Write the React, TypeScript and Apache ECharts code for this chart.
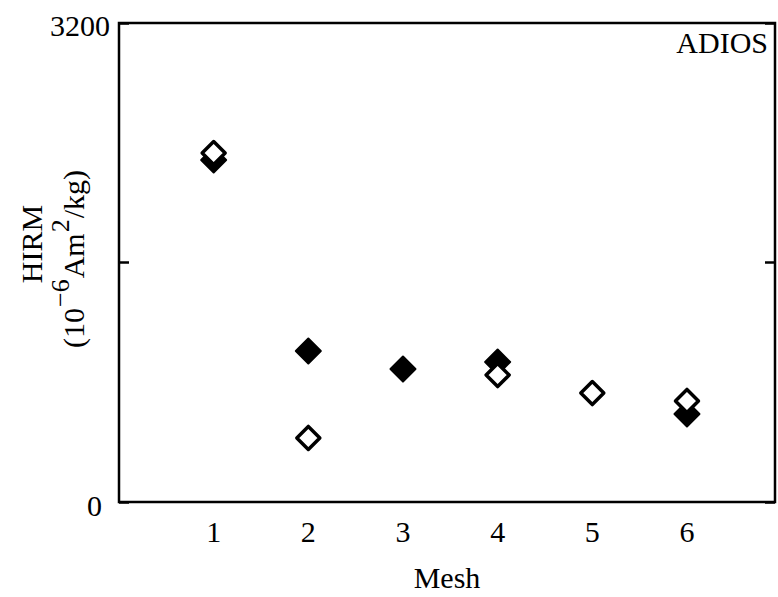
import React, { useEffect, useRef } from "react";
import * as echarts from "echarts";

// Mesh fractions on the x axis
const meshes = [1, 2, 3, 4, 5, 6];
// HIRM values (10^-6 Am^2/kg), solid diamonds
const filledHIRM: (number | null)[] = [2285, 1009, 888, 935, null, 588];
// HIRM values (10^-6 Am^2/kg), open diamonds
const openHIRM: (number | null)[] = [2331, 428, null, 848, 728, 675];
// y-axis range and step
const yMin = 0;
const yMax = 3200;
const yStep = 1600;
const yLabelValues = [0, 3200];

const SERIF = "'Liberation Serif', 'Times New Roman', serif";
const FS = 30;

const toPairs = (vals: (number | null)[]) =>
  meshes
    .map((m, i) => (vals[i] == null ? null : [m, vals[i]]))
    .filter((p) => p !== null) as number[][];

export default function App() {
  const ref = useRef<HTMLDivElement>(null);

  useEffect(() => {
    if (!ref.current) return;
    const chart = echarts.init(ref.current, null, { renderer: "svg" });
    const axisLine = { show: false };
    const insideTick = {
      show: true,
      inside: true,
      length: 10,
      lineStyle: { color: "#000", width: 2.5 },
    };
    chart.setOption({
      animation: false,
      backgroundColor: "#fff",
      textStyle: { fontFamily: SERIF, color: "#000" },
      grid: {
        left: 119,
        right: 1,
        top: 23,
        bottom: 95,
        show: true,
        borderColor: "#000",
        borderWidth: 2.5,
        backgroundColor: "transparent",
      },
      xAxis: {
        type: "value",
        min: 0,
        max: 6.93,
        interval: 1,
        axisLine,
        axisTick: { show: false },
        splitLine: { show: false },
        axisLabel: {
          margin: 14,
          fontSize: FS,
          fontFamily: SERIF,
          color: "#000",
          formatter: (v: number) => (meshes.includes(v) ? String(v) : ""),
        },
        name: "Mesh",
        nameLocation: "middle",
        nameGap: 60,
        nameTextStyle: { fontSize: FS, fontFamily: SERIF, color: "#000" },
      },
      yAxis: [
        {
          type: "value",
          min: yMin,
          max: yMax,
          interval: yStep,
          axisLine,
          axisTick: insideTick,
          splitLine: { show: false },
          axisLabel: {
            margin: 9,
            color: "#000",
            formatter: (v: number) =>
              yLabelValues.includes(v)
                ? v === yMax
                  ? `{top|${v}}`
                  : `{bot|${v}}`
                : "",
            rich: {
              top: {
                fontSize: FS,
                fontFamily: SERIF,
                color: "#000",
                padding: [5, 0, 0, 0],
              },
              bot: {
                fontSize: FS,
                fontFamily: SERIF,
                color: "#000",
                padding: [6, 8, 0, 0],
              },
            },
          },
        },
        {
          type: "value",
          position: "right",
          min: yMin,
          max: yMax,
          interval: yStep,
          axisLine,
          axisTick: insideTick,
          splitLine: { show: false },
          axisLabel: { show: false },
        },
      ],
      graphic: [
        {
          type: "text",
          right: 10,
          top: 27,
          style: {
            text: "ADIOS",
            font: `${FS}px ${SERIF}`,
            fill: "#000",
          },
        },
        {
          type: "text",
          x: 31.5,
          y: 244,
          rotation: Math.PI / 2,
          style: {
            text: "HIRM",
            font: `${FS}px ${SERIF}`,
            fill: "#000",
            align: "center",
            verticalAlign: "middle",
          },
        },
        {
          type: "text",
          x: 73.5,
          y: 259,
          rotation: Math.PI / 2,
          style: {
            text: "{m|(10}{s|−6}{m|Am}{s|2}{m|/kg)}",
            align: "center",
            verticalAlign: "middle",
            fill: "#000",
            rich: {
              m: {
                fontSize: FS,
                fontFamily: SERIF,
                lineHeight: 30,
                verticalAlign: "bottom",
                fill: "#000",
              },
              s: {
                fontSize: 26,
                fontFamily: SERIF,
                lineHeight: 26,
                verticalAlign: "bottom",
                padding: [0, 1, 15, 1],
                fill: "#000",
              },
            },
          },
        },
      ],
      series: [
        {
          name: "solid",
          type: "scatter",
          symbol: "diamond",
          symbolSize: 25,
          itemStyle: {
            color: "#000",
            opacity: 1,
            borderColor: "#000",
            borderWidth: 2,
            borderJoin: "round",
          },
          data: toPairs(filledHIRM),
          z: 2,
        },
        {
          name: "open",
          type: "scatter",
          symbol: "diamond",
          symbolSize: 23,
          itemStyle: {
            color: "#fff",
            opacity: 1,
            borderColor: "#000",
            borderWidth: 3.5,
            borderJoin: "round",
          },
          data: toPairs(openHIRM),
          z: 3,
        },
      ],
    });
    return () => chart.dispose();
  }, []);

  return (
    <div
      ref={ref}
      style={{ position: "fixed", left: 0, top: 0, width: 778, height: 597 }}
    />
  );
}
